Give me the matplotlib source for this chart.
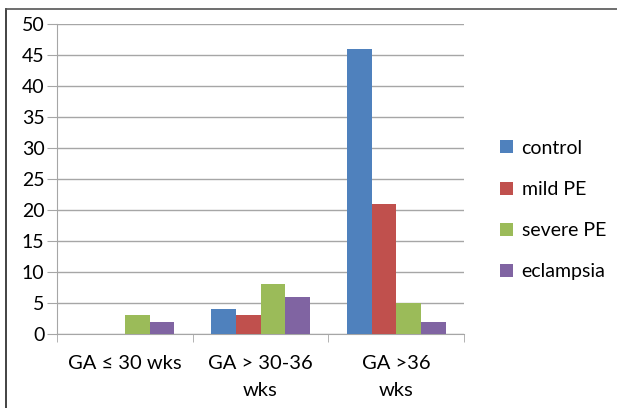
import numpy as np
from matplotlib import pyplot as plt
from matplotlib.lines import Line2D

categories = ['GA \u2264 30 wks', 'GA > 30-36\nwks', 'GA >36\nwks']
series = ['control', 'mild PE', 'severe PE', 'eclampsia']
control = [0, 4, 46]
mild_pe = [0, 3, 21]
severe_pe = [3, 8, 5]
eclampsia = [2, 6, 2]
colors = ['#4F81BD', '#C0504D', '#9BBB59', '#8064A2']

plt.rcParams['font.family'] = ['Lato', 'DejaVu Sans']

fig = plt.figure(figsize=(6.17, 4.08), dpi=100)
ax = fig.add_axes([57 / 617, 1 - 334 / 408, 407 / 617, 310 / 408])

# outer frame: left and top edges only
fx = 5.5 / 617
fy = 1 - 8.5 / 408
fig.add_artist(Line2D([fx, fx], [0, fy], transform=fig.transFigure, color='#222222', linewidth=1.2))
fig.add_artist(Line2D([fx, 1], [fy, fy], transform=fig.transFigure, color='#555555', linewidth=1.2))

x = np.arange(len(categories))
width = 1 / 5.5
values = [control, mild_pe, severe_pe, eclampsia]
for i, (name, vals) in enumerate(zip(series, values)):
    ax.bar(x + (i - 1.5) * width, vals, width, color=colors[i], label=name, zorder=3)

ax.set_xlim(-0.5, 2.5)
ax.set_ylim(0, 50)
ax.set_yticks(range(0, 51, 5))
ax.yaxis.grid(True, color='#A6A6A6', linewidth=1, zorder=0)
ax.tick_params(axis='y', length=7, color='#A6A6A6', labelsize=14, pad=2)
ax.set_xticks(x)
ax.set_xticklabels(categories, fontsize=14.5, linespacing=1.75)
ax.set_xticks([-0.5, 0.5, 1.5, 2.5], minor=True)
ax.tick_params(axis='x', which='major', length=0, pad=15)
ax.tick_params(axis='x', which='minor', length=6, color='#A6A6A6')
for s in ['top', 'right']:
    ax.spines[s].set_visible(False)
ax.spines['left'].set_color('#A6A6A6')
ax.spines['bottom'].set_color('#A6A6A6')

ax.legend(loc='center left', bbox_to_anchor=(1.065, 0.40), frameon=False, fontsize=14,
          handlelength=0.65, handleheight=0.65, labelspacing=1.25, handletextpad=0.45,
          borderpad=0)

plt.savefig('out.png', dpi=100)
